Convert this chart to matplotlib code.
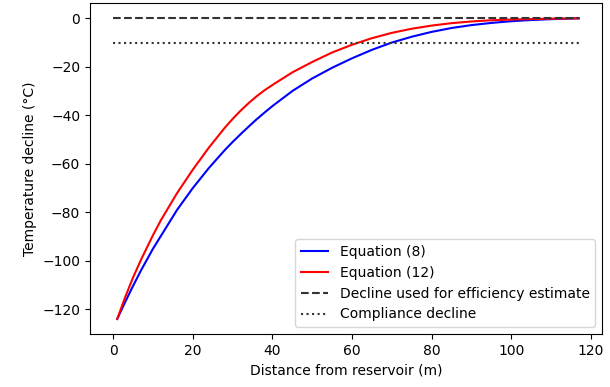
import matplotlib
matplotlib.use("Agg")
import matplotlib.pyplot as plt
import numpy as np

# distance from reservoir (m) and temperature decline (degC)
distance = [1, 3, 5, 7, 10, 12, 16, 20, 24, 28, 30, 32, 34, 36, 38, 40, 45,
            50, 55, 60, 65, 70, 75, 80, 85, 90, 95, 100, 105, 110, 117]
eq8 = [-124, -117, -110.3, -103.9, -95, -89.7, -79.1, -70, -61.8, -54.4,
       -51, -47.8, -44.7, -41.7, -38.9, -36.2, -30, -24.8, -20.4, -16.5,
       -13, -10, -7.6, -5.6, -4, -2.8, -1.9, -1.2, -0.7, -0.35, 0]
eq12 = [-124, -115, -106.8, -99.5, -89.4, -83.2, -72.2, -62.4, -53.4, -45.2,
        -41.5, -38.1, -35, -32.2, -29.7, -27.5, -22.3, -18, -14.1, -10.9,
        -8.2, -6, -4.3, -3, -2, -1.3, -0.8, -0.5, -0.3, -0.15, 0]

line_span = [0, 117]
efficiency_decline = 0
compliance_decline = -10

fig = plt.figure(figsize=(6.1, 3.87), dpi=100)
ax = fig.add_axes([0.1475, 0.137, 0.8395, 0.8545])

ax.plot(distance, eq8, color="blue", label="Equation (8)")
ax.plot(distance, eq12, color="red", label="Equation (12)")
ax.plot(line_span, [efficiency_decline] * 2, "--", color="0.2",
        label="Decline used for efficiency estimate")
ax.plot(line_span, [compliance_decline] * 2, ":", color="0.2",
        label="Compliance decline")

ax.set_xticks(np.arange(0, 121, 20))
ax.set_yticks(np.arange(-120, 1, 20))
ax.set_xlabel("Distance from reservoir (m)")
ax.set_ylabel("Temperature decline (°C)")
ax.legend(loc="lower right")

fig.savefig("out.png", dpi=100)
